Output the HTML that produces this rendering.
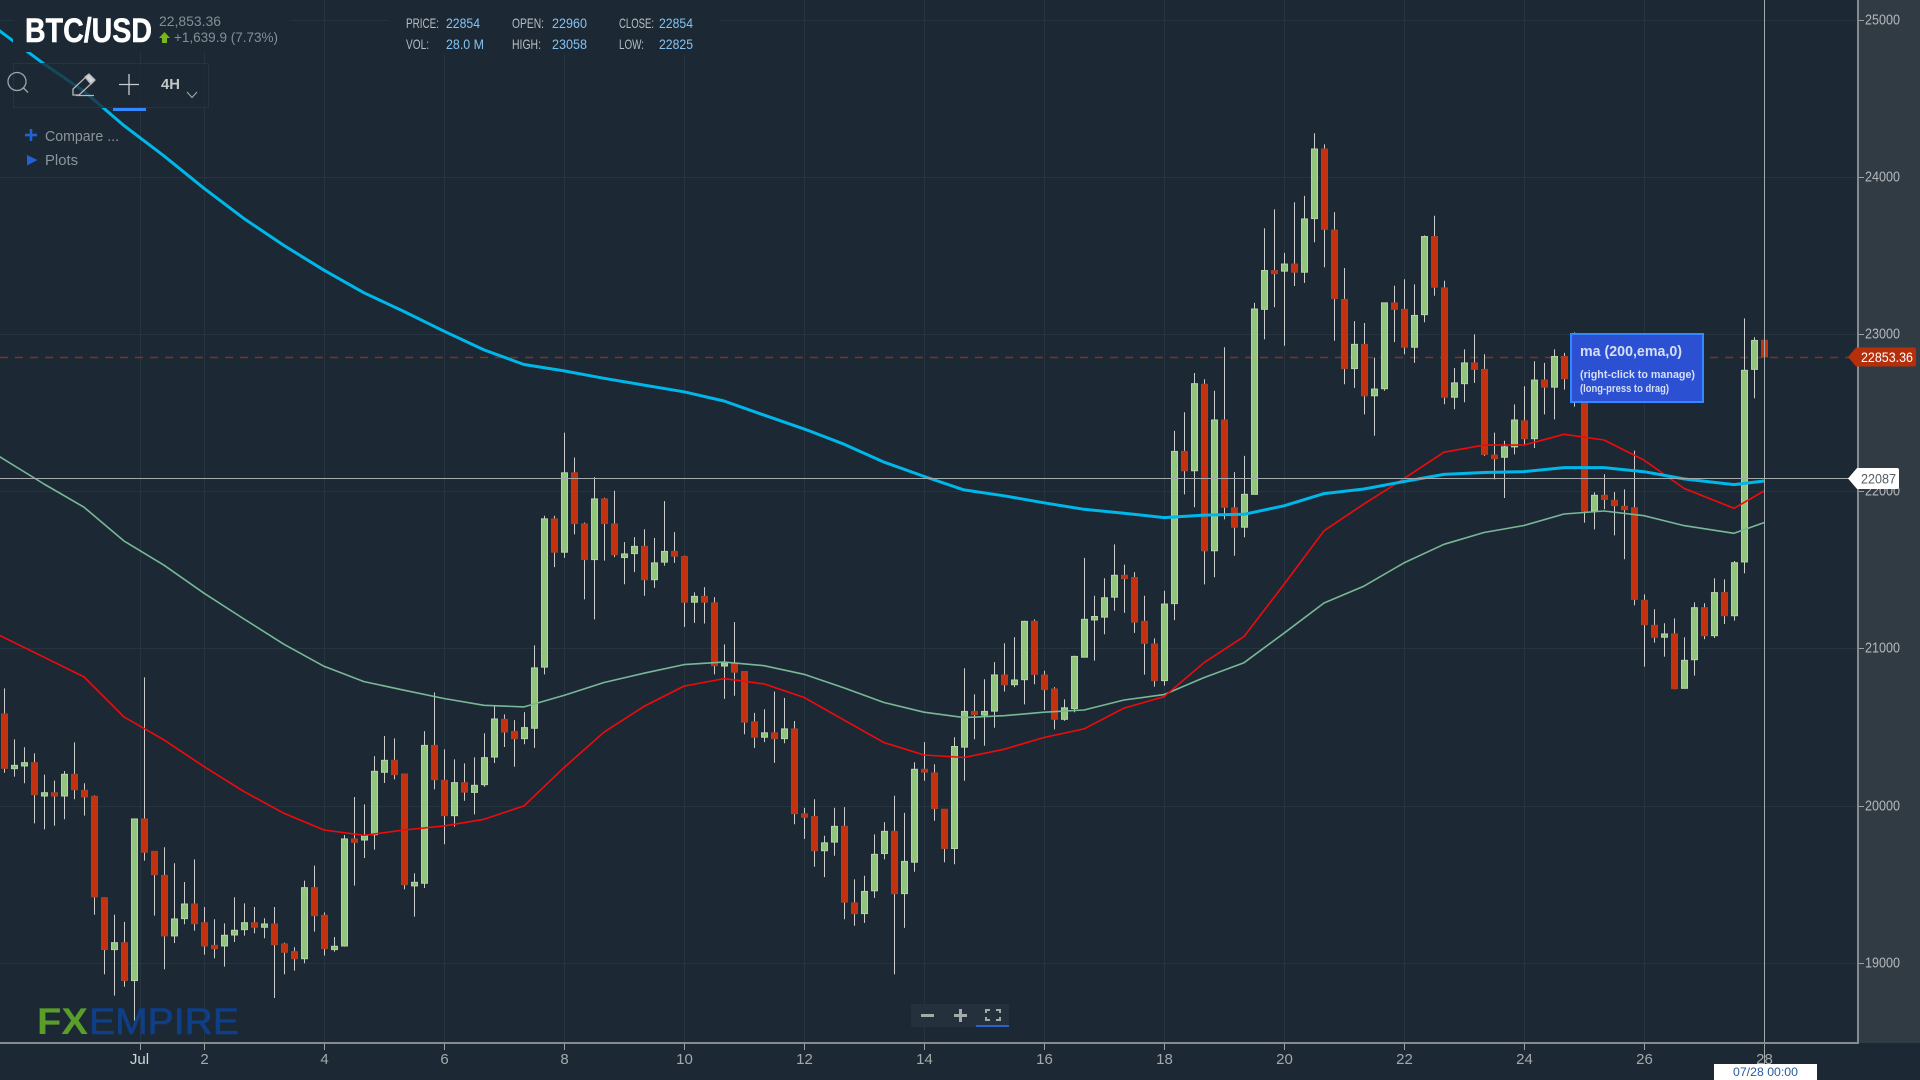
<!DOCTYPE html>
<html lang="en">
<head>
<meta charset="utf-8">
<title>BTC/USD chart</title>
<style>
html,body{margin:0;padding:0;width:1920px;height:1080px;overflow:hidden;background:#1c2935}
svg{display:block;font-family:"Liberation Sans",sans-serif}
.nw{font-family:"Liberation Sans Narrow","Liberation Sans",sans-serif}
</style>
</head>
<body>
<svg id="chart" xmlns="http://www.w3.org/2000/svg" width="1920" height="1080" viewBox="0 0 1920 1080">
  <rect x="0" y="0" width="1920" height="1080" fill="#1c2935"/>
  <rect x="1858" y="0" width="62" height="1043" fill="#303b44"/>
  <g id="grid"></g>
  <line x1="0" y1="357.5" x2="1858" y2="357.5" stroke="#7a3229" stroke-width="1.4" stroke-dasharray="8 7"/>
  <g id="candles"></g>
  <g id="mas"></g>
  <g id="cross"></g>

  <rect x="1857" y="0" width="2" height="1044" fill="#858b8f"/>
  <rect x="0" y="1042" width="1859" height="2" fill="#858b8f"/>
  <g id="yaxis"></g>
  <g id="xaxis"></g>

  <g>
    <text x="37" y="1034" font-size="37" font-weight="700" fill="#5a9e2a" textLength="51" lengthAdjust="spacingAndGlyphs">FX</text>
    <text x="89" y="1034" font-size="37" fill="#0f3f88" stroke="#0f3f88" stroke-width="0.6" textLength="150" lengthAdjust="spacingAndGlyphs">EMPIRE</text>
  </g>

  <rect x="13" y="0" width="278" height="52" fill="#1c2935"/>
  <rect x="388" y="0" width="332" height="55" fill="#1c2935"/>
  <text class="nw" x="25" y="42" font-size="34" font-weight="700" fill="#ffffff" stroke="#ffffff" stroke-width="0.5" textLength="127" lengthAdjust="spacingAndGlyphs">BTC/USD</text>
  <text x="159" y="26" font-size="14" fill="#868e94" textLength="62" lengthAdjust="spacingAndGlyphs">22,853.36</text>
  <path d="M164.500 32 L170 38 L167 38 L167 43 L162 43 L162 38 L159 38 Z" fill="#7ab51d"/>
  <text x="174" y="42" font-size="14" fill="#868e94" textLength="104" lengthAdjust="spacingAndGlyphs">+1,639.9 (7.73%)</text>

  <g class="nw" font-size="14" font-weight="400">
    <text x="406" y="28" fill="#b8bdc1" textLength="33" lengthAdjust="spacingAndGlyphs">PRICE:</text>
    <text x="446" y="28" fill="#84c2f0" textLength="34" lengthAdjust="spacingAndGlyphs">22854</text>
    <text x="512" y="28" fill="#b8bdc1" textLength="32" lengthAdjust="spacingAndGlyphs">OPEN:</text>
    <text x="552" y="28" fill="#84c2f0" textLength="35" lengthAdjust="spacingAndGlyphs">22960</text>
    <text x="619" y="28" fill="#b8bdc1" textLength="35" lengthAdjust="spacingAndGlyphs">CLOSE:</text>
    <text x="659" y="28" fill="#84c2f0" textLength="34" lengthAdjust="spacingAndGlyphs">22854</text>
    <text x="406" y="49" fill="#b8bdc1" textLength="23" lengthAdjust="spacingAndGlyphs">VOL:</text>
    <text x="446" y="49" fill="#84c2f0" textLength="38" lengthAdjust="spacingAndGlyphs">28.0 M</text>
    <text x="512" y="49" fill="#b8bdc1" textLength="29" lengthAdjust="spacingAndGlyphs">HIGH:</text>
    <text x="552" y="49" fill="#84c2f0" textLength="35" lengthAdjust="spacingAndGlyphs">23058</text>
    <text x="619" y="49" fill="#b8bdc1" textLength="25" lengthAdjust="spacingAndGlyphs">LOW:</text>
    <text x="659" y="49" fill="#84c2f0" textLength="34" lengthAdjust="spacingAndGlyphs">22825</text>
  </g>

  <rect x="13.500" y="63.500" width="195" height="44" fill="#1c2935" fill-opacity="0.78" stroke="#27333e"/>
  <g fill="none" stroke="#a0a5a8" stroke-width="1.300">
    <circle cx="17" cy="81.500" r="9"/>
    <line x1="23.500" y1="88" x2="28" y2="92.500"/>
  </g>
  <g fill="none" stroke="#b5b8ba" stroke-width="1.300">
    <path d="M73 95 L73 89 L88 75 L94 81 L79 95 Z"/>
    <path d="M85 77 L89 74 L95 80 L91 84 Z" fill="#d0d2d3"/>
    <line x1="76" y1="95.500" x2="94" y2="95.500"/>
  </g>
  <g stroke="#c8cbcd" stroke-width="1.300">
    <line x1="119" y1="84.500" x2="139" y2="84.500"/>
    <line x1="129" y1="74" x2="129" y2="95"/>
  </g>
  <rect x="113" y="108" width="33" height="3" fill="#3388ff"/>
  <text class="nw" x="161" y="89" font-size="15" font-weight="700" fill="#c4c7c9" textLength="19" lengthAdjust="spacingAndGlyphs">4H</text>
  <path d="M187 92 L192 97.500 L197 92" fill="none" stroke="#a0a5a8" stroke-width="1.100"/>

  <g stroke="#1f63d6" stroke-width="2.600">
    <line x1="25" y1="135" x2="37" y2="135"/>
    <line x1="31" y1="129" x2="31" y2="141"/>
  </g>
  <text x="45" y="141" font-size="14.500" fill="#8d9599" textLength="74" lengthAdjust="spacingAndGlyphs">Compare ...</text>
  <path d="M27 155 L37.500 160 L27 165.500 Z" fill="#1f63d6"/>
  <text x="45" y="165" font-size="14.500" fill="#8d9599" textLength="33" lengthAdjust="spacingAndGlyphs">Plots</text>

  <g>
    <rect x="1571" y="334" width="132" height="68" fill="#2c50d2" stroke="#3388ff" stroke-width="2"/>
    <text class="nw" x="1580" y="356" font-size="15" font-weight="700" fill="#d6dff7" textLength="102" lengthAdjust="spacingAndGlyphs">ma (200,ema,0)</text>
    <text class="nw" x="1580" y="378" font-size="11" font-weight="700" fill="#d6dff7" textLength="115" lengthAdjust="spacingAndGlyphs">(right-click to manage)</text>
    <text class="nw" x="1580" y="392" font-size="11" font-weight="700" fill="#d6dff7" textLength="89" lengthAdjust="spacingAndGlyphs">(long-press to drag)</text>
  </g>

  <g>
    <rect x="911" y="1004" width="98" height="23" rx="2" fill="#24313d"/>
    <rect x="921" y="1014" width="13" height="3" fill="#a4a9ac"/>
    <g fill="#a4a9ac">
      <rect x="954" y="1014" width="13" height="3"/>
      <rect x="959" y="1009" width="3" height="13"/>
    </g>
    <path d="M986 1013 V1010 H990 M996 1010 H1000 V1013 M1000 1017 V1020 H996 M990 1020 H986 V1017" fill="none" stroke="#a4a9ac" stroke-width="2"/>
    <rect x="976" y="1025" width="33" height="2" fill="#2a62c8"/>
  </g>

  <g>
    <path d="M1848 357 L1856 347.500 H1914 Q1916 347.500 1916 349.500 V364.500 Q1916 366.500 1914 366.500 H1856 Z" fill="#b5300a"/>
    <text x="1861" y="362" font-size="13.500" fill="#ffffff" textLength="52" lengthAdjust="spacingAndGlyphs">22853.36</text>
  </g>
  <g>
    <path d="M1848 478.500 L1857 468 H1897 Q1899 468 1899 470 V487 Q1899 489 1897 489 H1857 Z" fill="#ffffff"/>
    <text x="1861" y="483.500" font-size="13.500" fill="#555c60" textLength="35" lengthAdjust="spacingAndGlyphs">22087</text>
  </g>
  <g>
    <rect x="1714" y="1064" width="103" height="16" fill="#ffffff"/>
    <text x="1733" y="1076" font-size="12" fill="#2a5a9e" textLength="65" lengthAdjust="spacingAndGlyphs">07/28 00:00</text>
  </g>
</svg>
<script>
var openPrices = [
20583,20235,20252,20273,20061,20082,20061,20199,20097,20059,
19414,19084,19128,18887,19915,19709,19556,19171,19281,19374,
19255,19111,19107,19177,19211,19255,19226,19247,19120,19071,
19026,19478,19302,19084,19107,19788,19781,19815,20212,20288,
20201,19489,19506,20383,20161,19936,20146,20084,20133,20309,
20549,20472,20426,20492,20881,21824,21612,22117,21792,21565,
21951,21792,21578,21603,21649,21437,21549,21617,21585,21294,
21331,21290,20888,20906,20853,20533,20435,20463,20426,20488,
19947,19931,19713,19768,19868,19381,19313,19458,19695,19836,
19440,19640,20231,20208,19977,19727,20372,20599,20576,20601,
20831,20769,20801,21172,20831,20742,20549,20617,20944,21181,
21199,21326,21465,21451,21172,21028,20795,21285,22253,22130,
22680,21621,22453,21894,21771,21980,23157,23404,23400,23445,
23393,23734,24177,23661,23220,22780,22934,22607,22652,23198,
23157,22916,23123,23620,23293,22598,22684,22816,22775,22230,
22216,22282,22448,22334,22707,22662,22857,22760,22640,21874,
21974,21942,21904,21895,21306,21147,21071,21092,20746,20928,
21259,21081,21355,21208,21550,22775,22960];
var highPrices = [
20746,20421,20371,20332,20197,20159,20220,20402,20142,20065,
19417,19306,19260,19915,20816,19709,19735,19633,19514,19658,
19355,19277,19251,19417,19378,19355,19283,19355,19128,19099,
19523,19618,19321,19164,19813,20055,20008,20315,20443,20428,
20201,19569,20474,20720,20358,20294,20269,20307,20460,20636,
20580,20544,20595,21019,21844,21844,22373,22214,21801,22089,
21958,22003,21676,21708,21758,21703,21937,21740,21590,21356,
21390,21326,21026,21167,20853,20590,20613,20726,20685,20538,
19986,20040,19808,19986,19990,19531,19554,19817,19895,20063,
19954,20276,20404,20263,19977,20435,20874,20708,20804,20913,
21033,21072,21176,21185,20858,20754,20676,20953,21576,21335,
21446,21662,21533,21485,21335,21064,21367,22384,22502,22752,
22712,22639,22916,22121,22225,23198,23673,23793,23516,23838,
23879,24277,24206,23775,23420,23082,23070,22850,23200,23307,
23348,23316,23627,23752,23339,22784,22902,22998,22871,22373,
22321,22552,22668,22827,22816,22902,22880,23010,22680,21993,
22109,21995,22012,22258,21344,21249,21160,21191,21071,21293,
21287,21446,21439,21556,23099,22979,23058];
var lowPrices = [
20209,20184,20142,19887,19849,19872,19913,20040,19936,19306,
18927,18791,18848,18632,19650,19300,18959,19126,19245,19205,
19052,19029,18976,19132,19173,19188,19156,18776,18927,18950,
18997,19198,19046,19071,19103,19491,19667,19720,20144,20167,
19467,19294,19476,20103,19754,19866,20031,19944,20120,20271,
20373,20248,20390,20367,20835,21517,21576,21726,21312,21185,
21558,21581,21408,21485,21335,21385,21526,21544,21137,21162,
21158,20835,20679,20699,20454,20367,20404,20272,20397,19881,
19788,19611,19545,19681,19277,19236,19254,19413,19658,18927,
19222,19579,20158,19904,19640,19627,20158,20422,20381,20495,
20726,20754,20644,20772,20608,20485,20540,20594,20942,20922,
21090,21240,21226,21099,20833,20757,20763,21180,21980,21898,
21407,21453,21821,21589,21707,21980,22966,23170,22925,23305,
23325,23584,23425,22957,22680,22657,22489,22353,22639,22948,
22871,22816,23075,23243,22553,22521,22566,22689,22225,22075,
21957,22234,22298,22275,22489,22457,22646,22538,21800,21757,
21885,21719,21567,21274,20884,21037,20948,20740,20746,20827,
21058,21066,21155,21177,21478,22591,22825];
var closePrices = [
20237,20256,20273,20070,20082,20061,20199,20101,20055,19419,
19084,19128,18887,19915,19703,19561,19171,19279,19374,19249,
19107,19090,19175,19207,19255,19226,19247,19115,19067,19026,
19478,19300,19090,19105,19788,19766,19807,20218,20288,20197,
19497,19512,20383,20165,19936,20146,20086,20129,20305,20551,
20468,20426,20496,20876,21824,21612,22117,21794,21565,21951,
21794,21596,21601,21649,21437,21544,21617,21587,21294,21331,
21294,20890,20908,20849,20531,20435,20463,20426,20488,19949,
19926,19713,19763,19868,19386,19313,19454,19690,19836,19440,
19645,20231,20213,19981,19727,20376,20599,20579,20599,20831,
20769,20799,21172,20835,20738,20549,20622,20949,21185,21203,
21322,21465,21444,21167,21032,20795,21282,22253,22130,22684,
21621,22453,21898,21771,21980,23159,23404,23384,23445,23393,
23732,24177,23666,23225,22780,22934,22607,22650,23198,23157,
22916,23118,23620,23298,22598,22689,22816,22775,22234,22207,
22282,22453,22334,22707,22662,22857,22716,22640,21874,21974,
21948,21908,21882,21312,21151,21071,21092,20744,20924,21259,
21081,21355,21208,21545,22769,22959,22854];

var maBars = [-1,4,8,12,16,20,24,28,32,36,40,44,48,52,56,60,64,68,72,76,80,84,88,92,96,100,104,108,112,116,120,124,128,132,136,140,144,148,152,156,160,164,168,173,176];
var ma200Ema = [24955,24718,24544,24326,24133,23927,23734,23563,23406,23262,23143,23018,22899,22806,22765,22718,22675,22632,22574,22484,22396,22299,22185,22094,22008,21971,21926,21885,21860,21832,21848,21853,21907,21985,22014,22062,22107,22119,22125,22150,22150,22124,22078,22042,22065];
var maFastRed = [21100,20944,20819,20564,20418,20248,20089,19951,19845,19811,19845,19871,19913,19998,20242,20467,20631,20760,20808,20774,20688,20544,20401,20322,20306,20358,20433,20488,20620,20693,20909,21075,21407,21748,21919,22080,22248,22293,22293,22362,22326,22198,22018,21891,22001];
var maMidGreen = [22241,22046,21898,21683,21529,21351,21187,21026,20886,20789,20734,20681,20638,20628,20701,20783,20842,20897,20913,20890,20835,20749,20656,20594,20560,20572,20594,20608,20672,20706,20814,20909,21097,21289,21396,21544,21662,21737,21782,21855,21874,21844,21781,21732,21800];

var priceTicks = [19000,20000,21000,22000,23000,24000,25000];
var timeTickLabels = ['Jul','2','4','6','8','10','12','14','16','18','20','22','24','26','28'];
var timeTickBars = [13.6,20,32,44,56,68,80,92,104,116,128,140,152,164,176];
var crosshairBar = 176;
var crosshairPrice = 22082;

function xScale(bar){ return 4 + 10 * bar; }
function yScale(price){ return 334 + (23000 - price) * 0.1572; }

var NS = 'http://www.w3.org/2000/svg';
function mk(tag, parent, attrs){
  var el = document.createElementNS(NS, tag);
  for (var k in attrs) el.setAttribute(k, attrs[k]);
  parent.appendChild(el);
  return el;
}

var gridG = document.getElementById('grid');
var yAxisG = document.getElementById('yaxis');
var xAxisG = document.getElementById('xaxis');
var candleG = document.getElementById('candles');
var maG = document.getElementById('mas');
var crossG = document.getElementById('cross');

priceTicks.forEach(function(p){
  var y = Math.round(yScale(p)) + 0.5;
  var gl = mk('line', gridG, {x1:0, y1:y, x2:1857, y2:y, stroke:'#26343f', 'stroke-width':1});
  
  
  var tk = mk('line', yAxisG, {x1:1859, y1:y, x2:1864, y2:y, stroke:'#9a9fa2', 'stroke-width':1});
  
  
  var tx = mk('text', yAxisG, {x:1865, y:y+4, 'font-size':14.5, fill:'#b3b7ba', textLength:35, lengthAdjust:'spacingAndGlyphs'});
  
  
  tx.textContent = String(p);
});

timeTickLabels.forEach(function(lbl, i){
  var x = Math.round(xScale(timeTickBars[i])) + 0.5;
  var gl = mk('line', gridG, {x1:x, y1:0, x2:x, y2:1042, stroke:'#26343f', 'stroke-width':1});
  
  
  var tk = mk('line', xAxisG, {x1:x, y1:1044, x2:x, y2:1050, stroke:'#9a9fa2', 'stroke-width':1});
  
  
  var tx = mk('text', xAxisG, {x: i === 0 ? x - 1 : x, y:1064, 'font-size':15, 'text-anchor':'middle', fill: i === 0 ? '#d4d6d8' : '#a5a9ac'});
  
  
  tx.textContent = lbl;
});

openPrices.forEach(function(o, i){
  var c = closePrices[i];
  var up = c >= o;
  var x = xScale(i);
  var g = mk('g', candleG, {});
  
  
  mk('line', g, {x1:x+0.5, y1:yScale(highPrices[i]), x2:x+0.5, y2:yScale(lowPrices[i]), stroke:'#cbcdcd', 'stroke-width':1});
  var top = yScale(Math.max(o, c));
  var h = Math.max(yScale(Math.min(o, c)) - top, 2);
  mk('rect', g, {x:x-2.5, y:top, width:6, height:h, fill: up ? '#93c47d' : '#c4310e', stroke: up ? '#b4d4a4' : '#a93f25', 'stroke-width':1});
});

function drawLine(values, color, width, name){
  var pts = maBars.map(function(b, i){ return xScale(b).toFixed(1) + ',' + yScale(values[i]).toFixed(1); }).join(' ');
  var pl = mk('polyline', maG, {points:pts, fill:'none', stroke:color, 'stroke-width':width, 'stroke-linejoin':'round'});
  
  
}
drawLine(maMidGreen, '#78b896', 1.6, 'ma-green-line');
drawLine(maFastRed, '#f00a0a', 1.6, 'ma-red-line');
drawLine(ma200Ema, '#00b7ea', 3, 'ma-200-ema-line');

var chY = Math.round(yScale(crosshairPrice)) + 0.5;
var chX = Math.round(xScale(crosshairBar)) + 0.5;
var chH = mk('line', crossG, {x1:0, y1:chY, x2:1858, y2:chY, stroke:'#a3abad', 'stroke-width':1});


var chV = mk('line', crossG, {x1:chX, y1:0, x2:chX, y2:1064, stroke:'#a3abad', 'stroke-width':1});


</script>
</body>
</html>
